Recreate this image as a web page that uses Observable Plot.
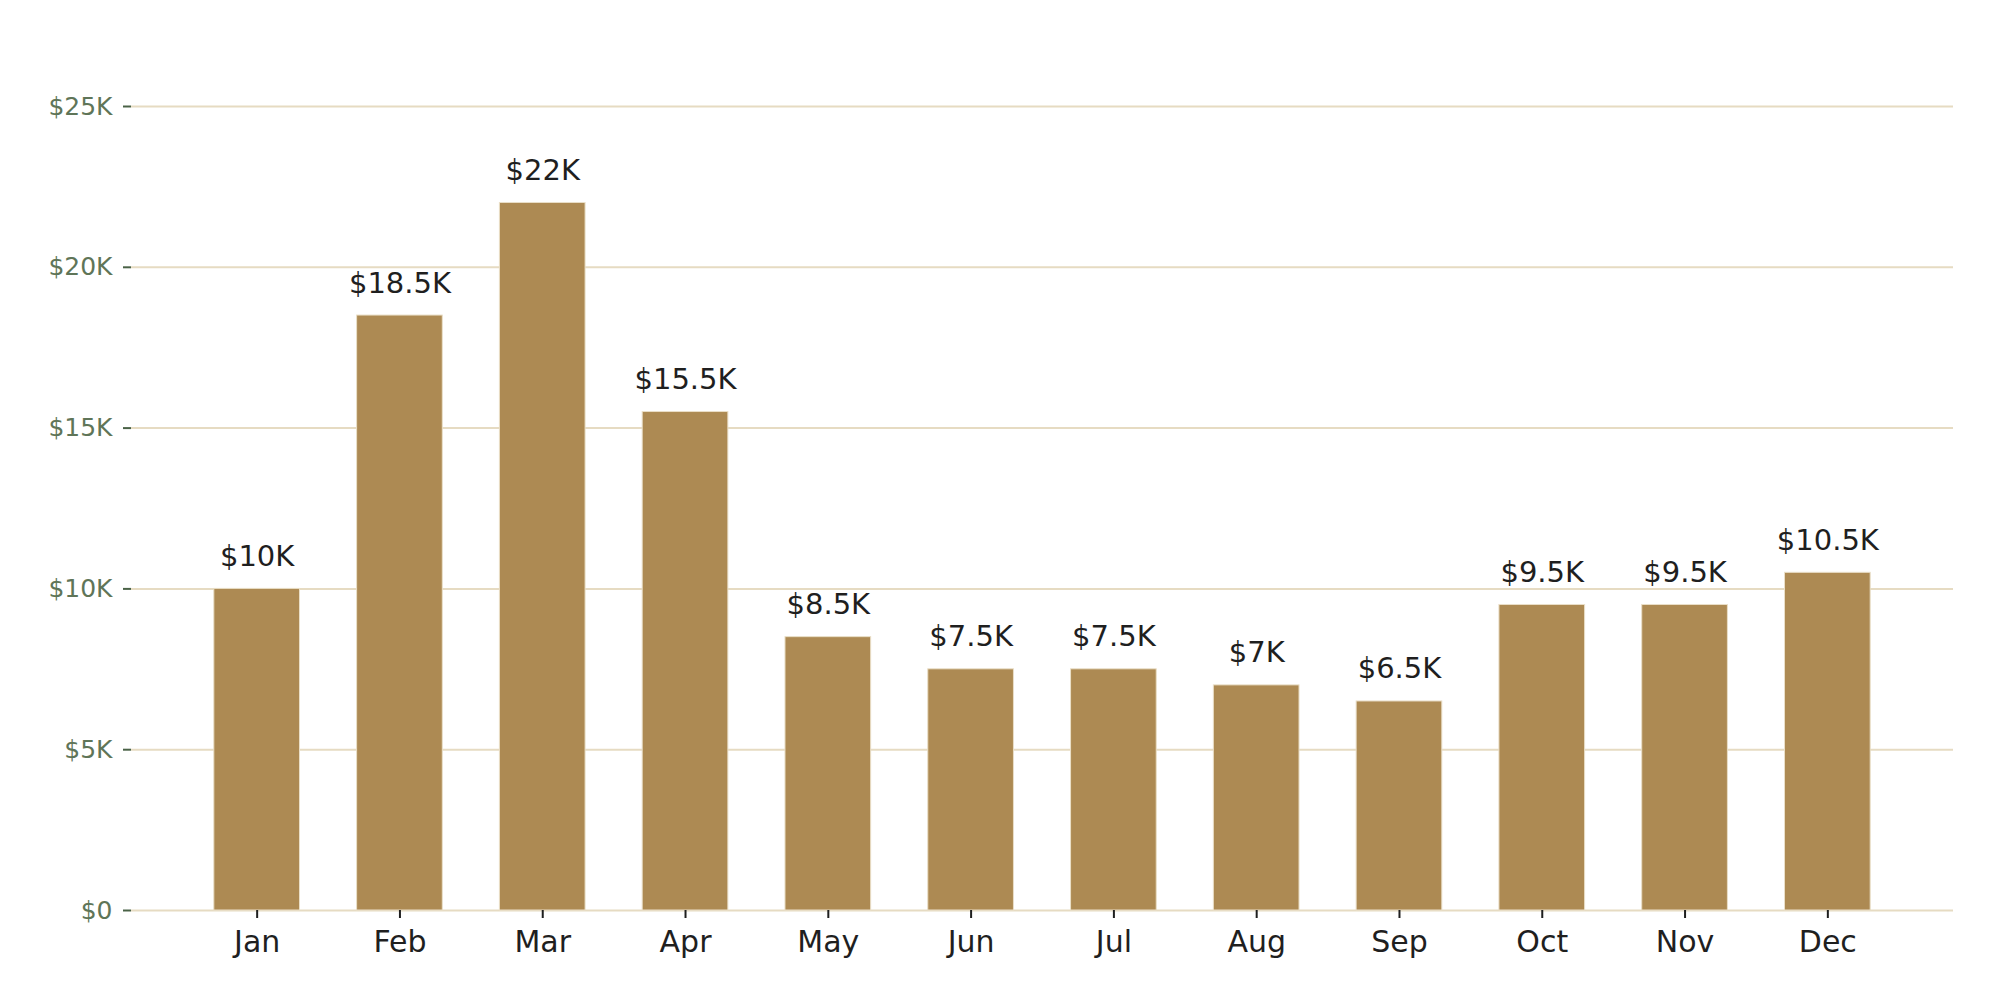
<!DOCTYPE html>
<html>
<head>
<meta charset="utf-8">
<script src="https://cdn.jsdelivr.net/npm/d3@7"></script>
<script src="https://cdn.jsdelivr.net/npm/@observablehq/plot@0.6"></script>
<style>
  html, body { margin: 0; padding: 0; background: #ffffff; }
  #chart svg { display: block; }
</style>
</head>
<body>
<div id="chart"></div>
<script>
const months = ["Jan", "Feb", "Mar", "Apr", "May", "Jun", "Jul", "Aug", "Sep", "Oct", "Nov", "Dec"];
const revenue = [10000, 18500, 22000, 15500, 8500, 7500, 7500, 7000, 6500, 9500, 9500, 10500];
const yTicks = [0, 5000, 10000, 15000, 20000, 25000];

const fmtK = (v) => v === 0 ? "$0" : "$" + (v / 1000) + "K";
const data = months.map((m, i) => ({ month: m, value: revenue[i] }));

const chart = Plot.plot({
  width: 2000,
  height: 1006,
  marginLeft: 131,
  marginRight: 47,
  marginTop: 106,
  marginBottom: 96,
  style: { fontFamily: "DejaVu Sans", background: "#ffffff" },
  x: { domain: months, paddingInner: 0.4, paddingOuter: 0.58, align: 0.5, round: false, label: null },
  y: { domain: [0, 25000], label: null },
  marks: [
    Plot.ruleY(yTicks, { stroke: "#e6dbc2", strokeWidth: 2 }),
    Plot.barY(data, { x: "month", y: "value", fill: "#ad8a53", stroke: "#eadfc8", strokeWidth: 1 }),
    Plot.text(data, {
      x: "month", y: "value", text: (d) => fmtK(d.value),
      lineAnchor: "bottom", dy: -23, fontSize: 29, fill: "#1f1f1f"
    }),
    Plot.axisY({
      ticks: yTicks, tickFormat: fmtK, tickSize: 8, tickPadding: 11,
      fontSize: 25, color: "#5f7558", stroke: "#4a6247", strokeWidth: 2
    }),
    Plot.axisX({
      tickSize: 8, tickPadding: 12, fontSize: 30, color: "#1f1f1f", stroke: "#1f1f1f", strokeWidth: 2
    })
  ]
});

document.getElementById("chart").appendChild(chart);
</script>
</body>
</html>
